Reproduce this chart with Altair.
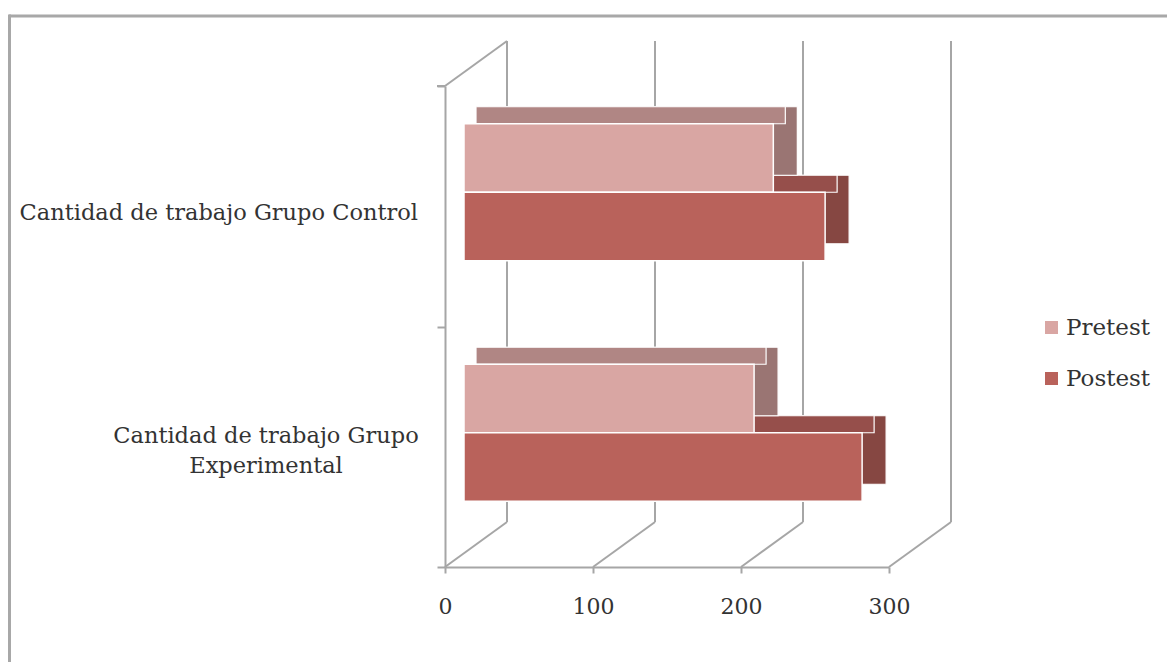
import altair as alt
import pandas as pd

# ---- data ----
groups = ["Cantidad de trabajo Grupo Control", "Cantidad de trabajo Grupo Experimental"]
series = ["Pretest", "Postest"]
pretest = [209, 196]
postest = [244, 269]
ticks = [0, 100, 200, 300]

front_colors = ["#d9a6a3", "#b9625b"]
top_colors = {"Pretest": "#b08684", "Postest": "#964f4b"}
side_colors = {"Pretest": "#9a7573", "Postest": "#864742"}

rows = []
for g, a, b in zip(groups, pretest, postest):
    rows.append({"grupo": g, "serie": "Pretest", "valor": a})
    rows.append({"grupo": g, "serie": "Postest", "valor": b})
df = pd.DataFrame(rows)
tick_df = pd.DataFrame({"t": ticks})
grp_df = pd.DataFrame({"grupo": groups})
one = pd.DataFrame({"k": [0]})

W, H = 444, 481
DX, DY = 62, -45          # back-wall depth offset
BX = 19                   # bar plane depth offset (x)
FX, FY = 24, -17          # bar depth (x, y)
BAR_H = 68.5
front_off = {"Pretest": -48.25, "Postest": 20.25}

GRID = "#a6a6a6"
FONT = "DejaVu Serif"
TXT = "#333333"

xscale = alt.Scale(domain=[0, 300], nice=False, zero=True)
yscale = alt.Scale(domain=groups, paddingInner=0, paddingOuter=0)

base = alt.Chart(df)

y_axis = alt.Axis(
    title=None, labels=False,
    tickBand="extent",
    domainColor=GRID, domainWidth=2,
    tickColor=GRID, tickWidth=2, tickSize=8,
)
x_axis = alt.Axis(
    title=None, values=ticks, grid=False, labelFlush=False,
    domainColor=GRID, domainWidth=2,
    tickColor=GRID, tickWidth=2, tickSize=6,
    labelFont=FONT, labelFontSize=22, labelColor=TXT, labelPadding=23,
)

X = alt.X("valor:Q", scale=xscale, axis=x_axis)
Y = alt.Y("grupo:N", scale=yscale, axis=y_axis)

# ---- 3D frame: back wall grid, floor diagonals, left wall top ----
back_grid = alt.Chart(tick_df).mark_rule(color=GRID, strokeWidth=2, xOffset=DX).encode(
    x=alt.X("t:Q", scale=xscale, axis=x_axis),
    y=alt.value(DY), y2=alt.value(H + DY),
)
floor_diag = alt.Chart(tick_df).mark_rule(color=GRID, strokeWidth=2, x2Offset=DX).encode(
    x=alt.X("t:Q", scale=xscale, axis=x_axis), x2="t:Q",
    y=alt.value(H), y2=alt.value(H + DY),
)
wall_top = alt.Chart(one).mark_rule(color=GRID, strokeWidth=2).encode(
    x=alt.value(0), x2=alt.value(DX), y=alt.value(0), y2=alt.value(DY),
)
top_tick = alt.Chart(one).mark_rule(color=GRID, strokeWidth=2).encode(
    x=alt.value(-8), x2=alt.value(0), y=alt.value(0), y2=alt.value(0),
)
# outer chart-area frame (top and left edges)
frame_top = alt.Chart(one).mark_rule(color="#a8a8a8", strokeWidth=3).encode(
    x=alt.value(-436), x2=alt.value(740), y=alt.value(-70), y2=alt.value(-70),
)
frame_left = alt.Chart(one).mark_rule(color="#a8a8a8", strokeWidth=3).encode(
    x=alt.value(-435.5), x2=alt.value(-435.5), y=alt.value(-71.5), y2=alt.value(700),
)

# ---- category labels (short one right-aligned, long one wrapped & centred) ----
label_short = alt.Chart(grp_df).transform_filter(
    "length(datum.grupo) <= 34"
).mark_text(
    align="right", baseline="middle", dx=-27, dy=7,
    font=FONT, fontSize=22.5, color=TXT,
).encode(x=alt.value(0), y=Y, text="grupo:N")

label_long = alt.Chart(grp_df).transform_filter(
    "length(datum.grupo) > 34"
).transform_calculate(
    lbl="[slice(datum.grupo, 0, lastindexof(datum.grupo, ' ')), "
        "slice(datum.grupo, lastindexof(datum.grupo, ' ') + 1)]"
).mark_text(
    align="center", baseline="middle", dx=-179, dy=-11, lineHeight=30,
    font=FONT, fontSize=22.5, color=TXT,
).encode(x=alt.value(0), y=Y, text="lbl:N")


def depth_layers(s):
    d = base.transform_filter(alt.datum.serie == s)
    fo = front_off[s]
    side = d.mark_bar(
        color=side_colors[s], stroke="white", strokeWidth=1.2, height=BAR_H,
        xOffset=BX + FX, x2Offset=BX + FX, yOffset=fo + FY,
    ).encode(x=X, y=Y)
    top = d.mark_bar(
        color=top_colors[s], stroke="white", strokeWidth=1.2, height=-FY,
        xOffset=BX + FX / 2, x2Offset=BX + FX / 2, yOffset=fo - BAR_H / 2 + FY / 2,
    ).encode(x=X, y=Y)
    return [side, top]


def front_layer(s):
    d = base.transform_filter(alt.datum.serie == s)
    return d.mark_bar(
        stroke="white", strokeWidth=1.5, height=BAR_H,
        xOffset=BX, x2Offset=BX, yOffset=front_off[s],
    ).encode(
        x=X, y=Y,
        color=alt.Color(
            "serie:N",
            scale=alt.Scale(domain=series, range=front_colors),
            legend=alt.Legend(
                title=None, orient="none", legendX=595, legendY=230,
                symbolType="square", symbolSize=169, symbolStrokeWidth=0,
                labelFont=FONT, labelFontSize=23, labelColor=TXT,
                rowPadding=27, labelOffset=3, padding=0,
            ),
        ),
    )


layers = [frame_top, frame_left, back_grid, floor_diag, wall_top, top_tick]
layers += depth_layers("Postest")
layers += depth_layers("Pretest")
layers += [front_layer("Pretest"), front_layer("Postest"), label_short, label_long]

chart = alt.layer(*layers).properties(
    width=W, height=H,
    padding={"left": 437, "top": 78, "right": 278, "bottom": 95},
    autosize=alt.AutoSizeParams(type="none"),
    background="white",
).configure_view(stroke=None)

chart.save("out.html", embed_options={"renderer": "svg", "actions": False})
